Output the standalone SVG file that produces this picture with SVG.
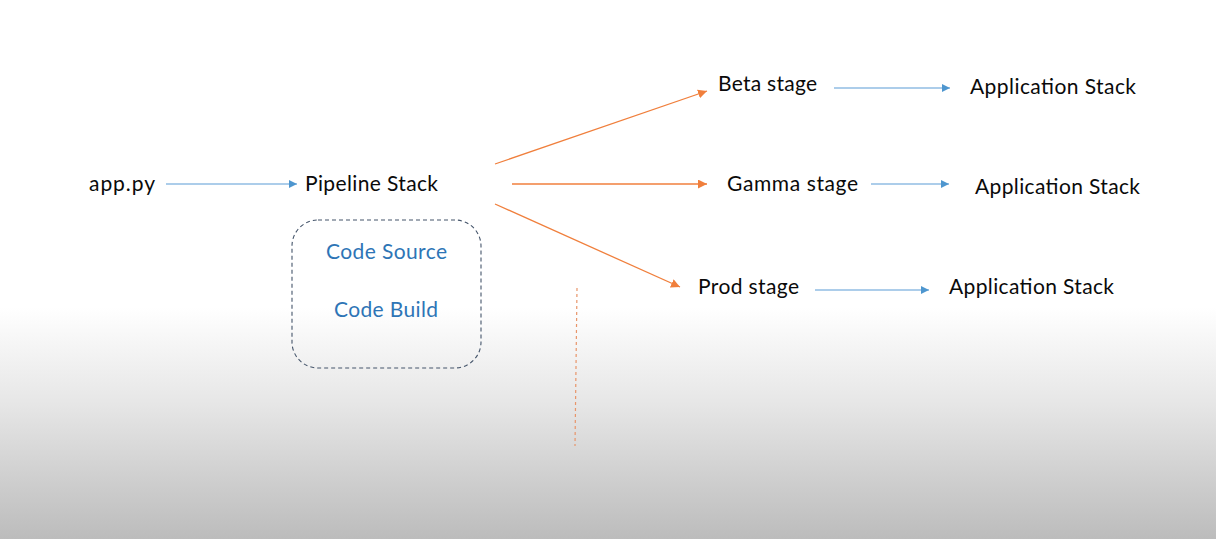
<svg xmlns="http://www.w3.org/2000/svg" width="1216" height="539" viewBox="0 0 1216 539">
<defs>
<linearGradient id="bg" x1="0" y1="0" x2="0" y2="539" gradientUnits="userSpaceOnUse">
<stop offset="0" stop-color="#ffffff"/>
<stop offset="0.57" stop-color="#ffffff"/>
<stop offset="0.75" stop-color="#e6e6e6"/>
<stop offset="1" stop-color="#bcbcbc"/>
</linearGradient>
<marker id="ab" viewBox="0 0 10 10" refX="10" refY="5" markerWidth="8" markerHeight="8" markerUnits="userSpaceOnUse" orient="auto">
<path d="M0,0 L10,5 L0,10 z" fill="#4e96cf"/>
</marker>
<marker id="ao" viewBox="0 0 10 10" refX="10" refY="5" markerWidth="9" markerHeight="9" markerUnits="userSpaceOnUse" orient="auto">
<path d="M0,0 L10,5 L0,10 z" fill="#f07f3c"/>
</marker>
</defs>
<style>
.t{font-family:Lato,"Liberation Sans",sans-serif;font-size:21px;fill:#0a0a0a}
.b{fill:#2e75b6}
.lb{stroke:#5b9bd5;stroke-width:1.2;fill:none;marker-end:url(#ab)}
.lo{stroke:#f07f3c;stroke-width:1.3;fill:none;marker-end:url(#ao)}
</style>
<rect width="1216" height="539" fill="url(#bg)"/>
<g id="connectors">
<line class="lb" x1="166" y1="184" x2="297" y2="184"/>
<line class="lb" x1="834" y1="88" x2="950" y2="88"/>
<line class="lb" x1="871" y1="184" x2="949" y2="184"/>
<line class="lb" x1="815" y1="290" x2="929" y2="290"/>
<line class="lo" x1="495" y1="164" x2="707" y2="91"/>
<line class="lo" x1="512" y1="184" x2="707" y2="184"/>
<line class="lo" x1="495" y1="204" x2="680" y2="287"/>
<line x1="577" y1="288" x2="575" y2="446" stroke="#e8956a" stroke-width="1.2" stroke-dasharray="3,3"/>
</g>
<g id="app-py"><text class="t" x="89" y="191" textLength="66">app.py</text></g>
<g id="pipeline-stack"><text class="t" x="305" y="191" textLength="133">Pipeline Stack</text></g>
<g id="pipeline-box">
<rect x="292" y="220" width="189" height="148" rx="26" fill="none" stroke="#44546a" stroke-width="1.1" stroke-dasharray="4,3"/>
<text class="t b" x="326" y="259" textLength="121">Code Source</text>
<text class="t b" x="334" y="317" textLength="104">Code Build</text>
</g>
<g id="beta-stage"><text class="t" x="718" y="91" textLength="99">Beta stage</text></g>
<g id="gamma-stage"><text class="t" x="727" y="191" textLength="131">Gamma stage</text></g>
<g id="prod-stage"><text class="t" x="698" y="294" textLength="101">Prod stage</text></g>
<g id="app-stack-beta"><text class="t" x="970" y="94" textLength="166">Application Stack</text></g>
<g id="app-stack-gamma"><text class="t" x="975" y="194" textLength="165">Application Stack</text></g>
<g id="app-stack-prod"><text class="t" x="949" y="294" textLength="165">Application Stack</text></g>
</svg>
